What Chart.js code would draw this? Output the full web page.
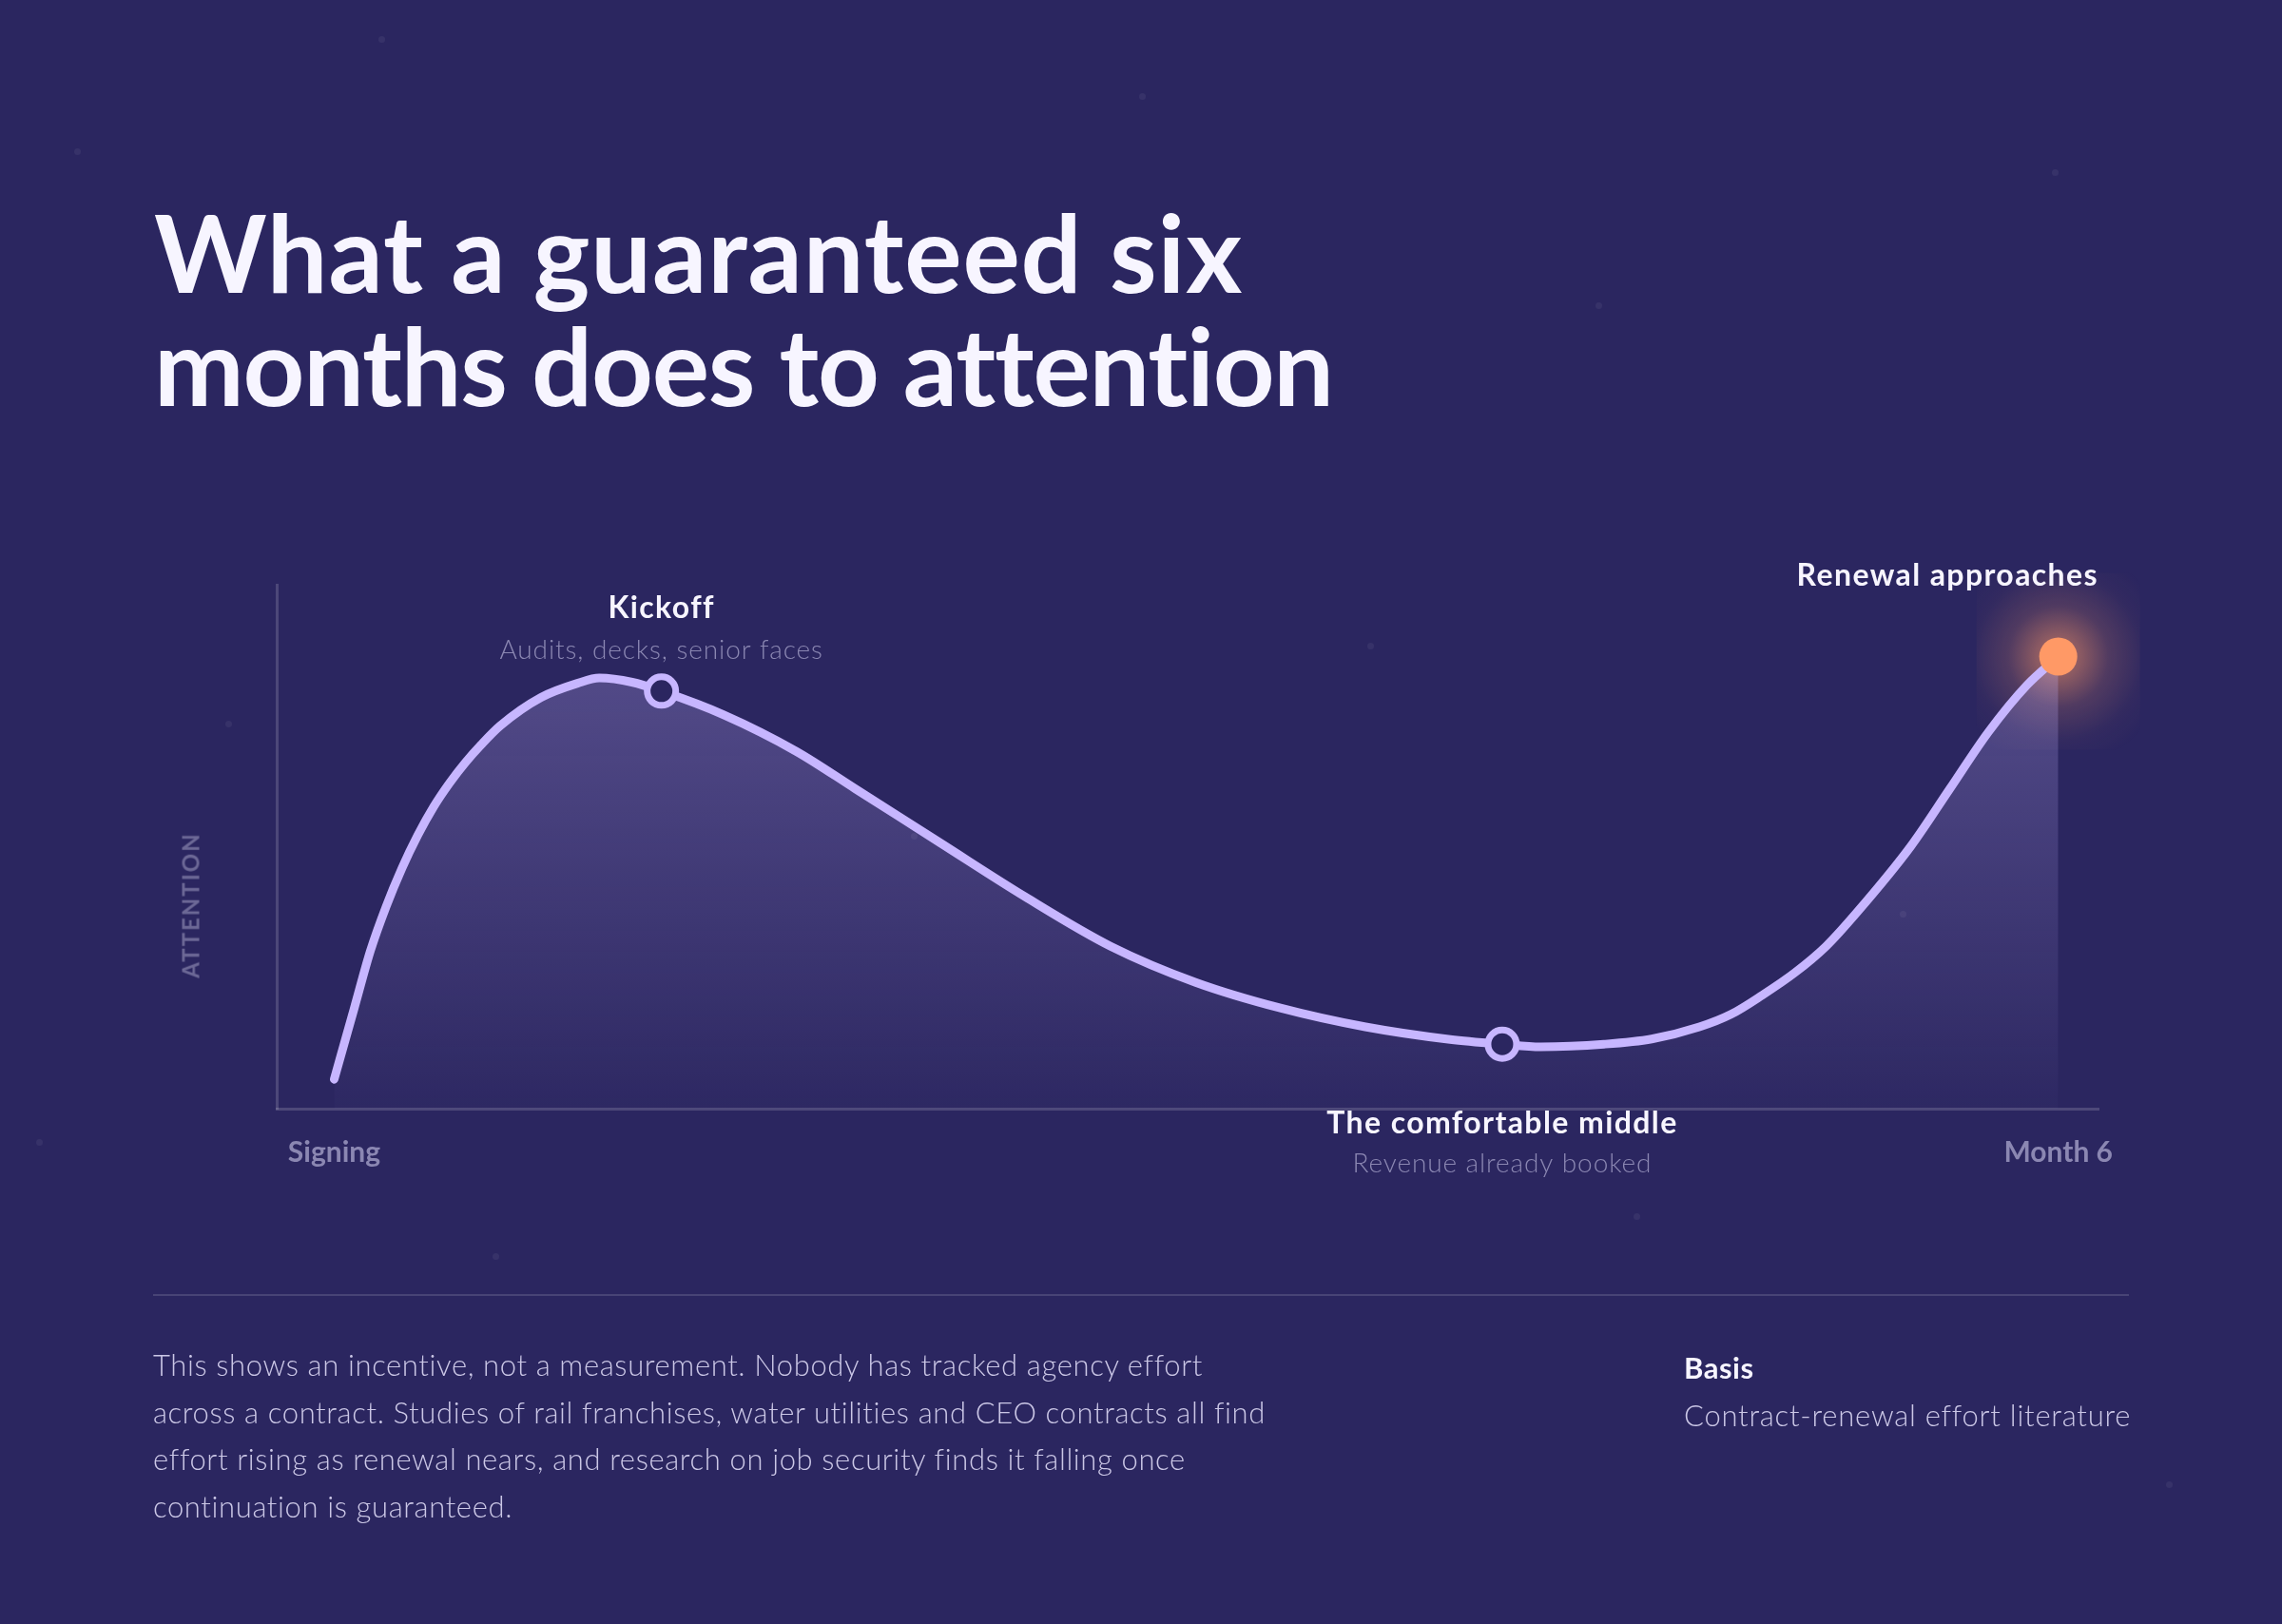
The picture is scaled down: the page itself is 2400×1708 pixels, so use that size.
<!DOCTYPE html>
<html>
<head>
<meta charset="utf-8">
<script src="https://cdn.jsdelivr.net/npm/chart.js@4.4.1/dist/chart.umd.min.js"></script>
<style>
  html, body { margin: 0; padding: 0; background: #2b2660; }
  #page { position: relative; width: 2400px; height: 1708px; background: #2b2660; overflow: hidden; font-family: Lato, "Noto Sans", sans-serif; }
  #chart { position: absolute; left: 0; top: 0; }
  .star { position: absolute; width: 7px; height: 7px; border-radius: 50%; background: rgba(255,255,255,0.06); }
  h1 { position: absolute; left: 162px; top: 205px; margin: 0; font-size: 113px; line-height: 119px; font-weight: 700; color: #f7f5ff; white-space: nowrap; }
  h1 .l1 { letter-spacing: 0.9px; }
  h1 .l2 { letter-spacing: -1.2px; }
  #ylab { position: absolute; left: 200px; top: 952px; transform: translate(-50%, -50%) rotate(-90deg); font-size: 24px; font-weight: 700; letter-spacing: 2px; color: #6c6896; white-space: nowrap; }
  #rule { position: absolute; left: 161px; top: 1361px; width: 2078px; height: 2px; background: rgba(255,255,255,0.14); }
  #note { position: absolute; left: 161px; top: 1411px; font-size: 31px; line-height: 49.5px; font-weight: 300; color: #cbc7e6; letter-spacing: 0.62px; white-space: nowrap; }
  #basisT { position: absolute; left: 1771px; top: 1419px; font-size: 31px; font-weight: 700; color: #f7f5ff; letter-spacing: 0.5px; }
  #basisV { position: absolute; left: 1771px; top: 1469px; font-size: 31px; font-weight: 300; color: #cbc7e6; letter-spacing: 0.75px; white-space: nowrap; }
</style>
</head>
<body>
<div id="page">
  <div class="star" style="left:398px;top:38px"></div>
  <div class="star" style="left:1198px;top:98px"></div>
  <div class="star" style="left:78px;top:156px"></div>
  <div class="star" style="left:2158px;top:178px"></div>
  <div class="star" style="left:1678px;top:318px"></div>
  <div class="star" style="left:1438px;top:676px"></div>
  <div class="star" style="left:237px;top:758px"></div>
  <div class="star" style="left:958px;top:876px"></div>
  <div class="star" style="left:1998px;top:958px"></div>
  <div class="star" style="left:38px;top:1198px"></div>
  <div class="star" style="left:518px;top:1318px"></div>
  <div class="star" style="left:1718px;top:1276px"></div>
  <div class="star" style="left:2278px;top:1558px"></div>
  <canvas id="chart" width="2400" height="1708"></canvas>
  <h1><span class="l1">What a guaranteed six</span><br><span class="l2">months does to attention</span></h1>
  <div id="ylab">ATTENTION</div>
  <div id="rule"></div>
  <div id="note">This shows an incentive, not a measurement. Nobody has tracked agency effort<br>across a contract. Studies of rail franchises, water utilities and CEO contracts all find<br>effort rising as renewal nears, and research on job security finds it falling once<br>continuation is guaranteed.</div>
  <div id="basisT">Basis</div>
  <div id="basisV">Contract-renewal effort literature</div>
</div>
<script>
// ---- data (months since signing, attention 0-100) ----
const months = [0, 0.07, 0.126, 0.181, 0.236, 0.291, 0.347, 0.402, 0.457, 0.512, 0.578, 0.72, 0.847, 0.923, 1.037, 1.139, 1.354, 1.608, 1.815, 2.11, 2.406, 2.702, 2.998, 3.293, 3.589, 3.884, 4.065, 4.199, 4.419, 4.585, 4.751, 4.861, 4.971, 5.082, 5.192, 5.303, 5.487, 5.622, 5.757, 5.892, 6.0];
const attention = [5.6, 19.2, 30.1, 38.6, 45.9, 52.2, 57.7, 62.2, 66.1, 69.5, 73.1, 78.5, 81.2, 82.2, 81.4, 79.7, 75.2, 68.2, 61.0, 50.7, 40.4, 31.0, 24.1, 19.2, 15.6, 13.2, 12.3, 11.8, 12.3, 13.3, 15.6, 18.0, 21.7, 25.9, 31.0, 37.7, 50.1, 61.0, 71.9, 80.9, 86.3];
const tickValues = [0, 6];
const tickLabels = ['Signing', 'Month 6'];
const markerTitles = ['Kickoff', 'The comfortable middle', 'Renewal approaches'];
const markerNotes = ['Audits, decks, senior faces', 'Revenue already booked', ''];
const markerMonths = [1.139, 4.065, 6.0];
const markerValues = [79.7, 12.3, 86.3];

const BG = '#2b2660';
const LINE = '#c7b6ff';
const ORANGE = '#ff9966';

const curve = months.map((m, i) => ({ x: m, y: attention[i] }));
const hollow = [0, 1].map(i => ({ x: markerMonths[i], y: markerValues[i] }));
const endDot = [{ x: markerMonths[2], y: markerValues[2] }];

const glowPlugin = {
  id: 'glow',
  beforeDatasetsDraw(chart) {
    const { ctx, scales } = chart;
    const px = scales.x.getPixelForValue(markerMonths[2]);
    const py = scales.y.getPixelForValue(markerValues[2]);
    const g = ctx.createRadialGradient(px, py, 0, px, py, 118);
    g.addColorStop(0, 'rgba(255,153,102,0.62)');
    g.addColorStop(0.2, 'rgba(255,153,102,0.45)');
    g.addColorStop(0.45, 'rgba(255,153,102,0.18)');
    g.addColorStop(0.75, 'rgba(255,153,102,0.04)');
    g.addColorStop(1, 'rgba(255,153,102,0)');
    ctx.save();
    ctx.fillStyle = g;
    ctx.fillRect(px - 86, py - 88, 172, 186);
    ctx.restore();
  }
};

const labelPlugin = {
  id: 'labels',
  afterDatasetsDraw(chart) {
    const { ctx, scales, chartArea } = chart;
    ctx.save();
    ctx.textBaseline = 'middle';
    markerTitles.forEach((t, i) => {
      const px = scales.x.getPixelForValue(markerMonths[i]);
      const py = scales.y.getPixelForValue(markerValues[i]);
      let tx = px, ty, ny, align = 'center';
      if (i === 0) { ty = py - 87; ny = py - 43; }
      else if (i === 1) { ty = py + 83; ny = py + 126; }
      else { ty = py - 85; tx = chartArea.right; align = 'right'; }
      ctx.textAlign = align;
      ctx.fillStyle = '#f7f5ff';
      ctx.font = '700 32px Lato, "Noto Sans", sans-serif';
      ctx.letterSpacing = '1.4px';
      ctx.fillText(t, tx, ty);
      if (markerNotes[i]) {
        ctx.fillStyle = '#8b87b2';
        ctx.font = '300 28px Lato, "Noto Sans", sans-serif';
        ctx.letterSpacing = '0.9px';
        ctx.fillText(markerNotes[i], tx, ny);
      }
    });
    ctx.restore();
  }
};

new Chart(document.getElementById('chart'), {
  type: 'line',
  data: {
    datasets: [
      {
        data: endDot, order: 0, showLine: false,
        pointRadius: 20, pointHoverRadius: 20, pointBackgroundColor: ORANGE, pointBorderWidth: 0, clip: false
      },
      {
        data: hollow, order: 1, showLine: false,
        pointRadius: 15, pointHoverRadius: 15, pointBackgroundColor: BG, pointBorderColor: LINE, pointBorderWidth: 7, clip: false
      },
      {
        data: curve, order: 2,
        borderColor: LINE, borderWidth: 9, borderCapStyle: 'round', borderJoinStyle: 'round',
        cubicInterpolationMode: 'monotone', pointRadius: 0, fill: 'origin', clip: false,
        backgroundColor: (c) => {
          const a = c.chart.chartArea;
          if (!a) return 'rgba(199,182,255,0.15)';
          const g = c.chart.ctx.createLinearGradient(0, a.top, 0, a.bottom);
          g.addColorStop(0, 'rgba(199,182,255,0.30)');
          g.addColorStop(1, 'rgba(199,182,255,0.02)');
          return g;
        }
      }
    ]
  },
  options: {
    responsive: false,
    devicePixelRatio: 1,
    animation: false,
    events: [],
    layout: { padding: { left: 291, right: 193, top: 615, bottom: 452 } },
    plugins: { legend: { display: false }, tooltip: { enabled: false } },
    scales: {
      x: {
        type: 'linear', min: -0.2, max: 6.14,
        grid: { display: false, drawTicks: false },
        border: { display: true, color: 'rgba(255,255,255,0.16)', width: 3 },
        afterBuildTicks: (s) => { s.ticks = tickValues.map(v => ({ value: v })); },
        afterFit: (s) => { s.height = 90; },
        ticks: {
          padding: 28, autoSkip: false, maxRotation: 0,
          color: '#8b87b2', font: { family: 'Lato', size: 30, weight: '700' },
          callback: (v) => tickLabels[tickValues.indexOf(v)]
        }
      },
      y: {
        min: 0, max: 100,
        grid: { display: false, drawTicks: false },
        border: { display: true, color: 'rgba(255,255,255,0.16)', width: 3 },
        ticks: { display: false },
        afterFit: (s) => { s.width = 0; }
      }
    }
  },
  plugins: [glowPlugin, labelPlugin]
});
</script>
</body>
</html>
